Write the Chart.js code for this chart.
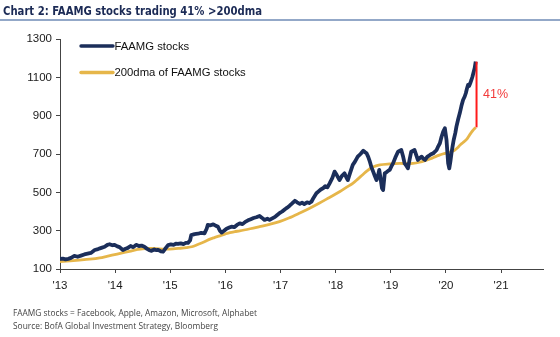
<!DOCTYPE html>
<html>
<head>
<meta charset="utf-8">
<script src="https://cdn.jsdelivr.net/npm/chart.js@4/dist/chart.umd.min.js"></script>
<style>
  html, body { margin: 0; padding: 0; background: #fff; }
  #wrap { position: relative; width: 560px; height: 337px; overflow: hidden; }
  #c { position: absolute; left: 0; top: 0; }
  .txt { position: absolute; white-space: nowrap; transform-origin: 0 0; }
  #title { left: 3px; top: 3px; font-family: "Liberation Sans Narrow", "DejaVu Sans Condensed", "Liberation Sans", sans-serif;
           font-weight: bold; font-size: 13px; color: #1b2a55; }
  #rule { position: absolute; left: 0; top: 19px; width: 560px; height: 1.5px; background: #93a8c8; }
  .note { left: 13px; font-family: "Open Sans", "Noto Sans", sans-serif; font-size: 9.8px; color: #444; }
</style>
</head>
<body>
<div id="wrap">
  <canvas id="c" width="560" height="337"></canvas>
  <div id="title" class="txt">Chart 2: FAAMG stocks trading 41% &gt;200dma</div>
  <div id="rule"></div>
  <div id="note1" class="txt note" style="top:306px">FAAMG stocks = Facebook, Apple, Amazon, Microsoft, Alphabet</div>
  <div id="note2" class="txt note" style="top:319px">Source: BofA Global Investment Strategy, Bloomberg</div>
</div>
<script>
// FAAMG index level, dates as decimal years
const faamgDates = [
  2013.00,2013.05,2013.10,2013.15,2013.20,2013.26,2013.32,2013.38,2013.44,2013.50,2013.56,2013.63,2013.69,2013.75,2013.81,2013.86,2013.90,2013.95,2013.99,
  2014.04,2014.08,2014.14,2014.19,2014.23,2014.28,2014.33,2014.38,2014.43,2014.48,2014.53,2014.58,2014.62,2014.66,2014.71,2014.75,2014.78,2014.83,2014.87,2014.91,2014.96,
  2015.01,2015.06,2015.10,2015.14,2015.19,2015.24,2015.28,2015.32,2015.36,2015.38,2015.44,2015.50,2015.56,2015.62,2015.66,2015.68,2015.73,2015.78,2015.83,2015.86,2015.90,2015.93,2015.97,
  2016.02,2016.07,2016.11,2016.16,2016.21,2016.26,2016.31,2016.36,2016.41,2016.46,2016.51,2016.56,2016.62,2016.66,2016.71,2016.76,2016.80,2016.85,2016.90,2016.94,2016.98,
  2017.03,2017.08,2017.12,2017.16,2017.21,2017.26,2017.30,2017.35,2017.39,2017.43,2017.48,2017.52,2017.56,2017.60,2017.65,2017.69,2017.73,2017.77,2017.81,2017.85,2017.89,2017.94,2017.98,
  2018.02,2018.07,2018.11,2018.16,2018.19,2018.22,2018.26,2018.31,2018.35,2018.40,2018.45,2018.50,2018.53,2018.56,2018.59,2018.62,2018.65,2018.68,2018.71,2018.74,2018.77,2018.79,2018.82,2018.84,2018.86,2018.89,2018.92,2018.95,2018.98,
  2019.01,2019.04,2019.08,2019.13,2019.19,2019.22,2019.25,2019.28,2019.31,2019.34,2019.37,2019.43,2019.46,2019.49,2019.53,2019.56,2019.59,2019.62,2019.66,2019.71,2019.74,2019.77,2019.80,2019.83,2019.86,2019.89,2019.92,2019.95,2019.98,
  2020.01,2020.04,2020.06,2020.08,2020.10,2020.12,2020.14,2020.17,2020.19,2020.22,2020.25,2020.28,2020.31,2020.34,2020.36,2020.38,2020.40,2020.42,2020.44,2020.46,2020.48,2020.50,2020.52,2020.54
];
const faamgValues = [
  152,154,150,153,158,168,164,170,176,180,184,199,204,210,216,226,229,224,226,
  218,214,199,206,210,220,214,226,220,222,216,205,198,195,202,198,200,192,190,206,225,
  228,226,232,231,234,230,236,236,250,277,282,284,288,286,310,330,328,333,325,322,300,290,298,
  310,316,321,318,330,338,334,346,354,360,366,370,377,368,356,362,356,364,372,382,391,
  400,412,420,429,442,456,448,440,446,439,448,444,451,472,495,505,515,521,532,526,547,575,608,
  590,564,585,599,580,564,600,643,660,686,700,717,710,704,685,660,630,608,585,564,590,617,560,521,512,599,605,612,617,
  635,651,680,712,721,690,651,640,625,670,712,721,695,669,680,686,675,669,685,695,700,704,712,721,740,756,790,817,834,
  773,651,625,660,704,740,773,810,843,880,912,950,982,1000,1017,1040,1060,1055,1069,1085,1103,1125,1147,1182
];

// 200-day moving average of the FAAMG index
const dmaDates = [
  2013.00,2013.18,2013.35,2013.54,2013.72,2013.85,2013.99,2014.13,2014.26,2014.41,2014.55,2014.70,2014.90,2015.05,2015.17,2015.30,2015.39,2015.50,2015.62,2015.72,2015.80,2015.90,
  2016.00,2016.08,2016.17,2016.26,2016.45,2016.62,2016.80,2016.98,2017.15,2017.34,2017.52,2017.70,2017.88,2018.07,2018.20,2018.31,2018.40,2018.49,2018.57,2018.65,2018.73,2018.80,2018.98,
  2019.16,2019.30,2019.40,2019.52,2019.62,2019.72,2019.80,2019.88,2019.94,2020.00,2020.07,2020.12,2020.16,2020.21,2020.25,2020.31,2020.37,2020.43,2020.48,2020.54
];
const dmaValues = [
  138,142,146,151,158,166,175,184,192,202,207,207,204,205,208,212,216,228,242,256,264,273,
  283,290,295,299,310,321,333,347,366,391,416,443,472,503,527,547,569,592,612,628,638,643,648,
  651,650,651,657,665,675,685,694,700,705,710,714,720,732,745,760,775,800,820,839
];

const seriesNames = ["FAAMG stocks", "200dma of FAAMG stocks"];
const xTickYears = [2013, 2014, 2015, 2016, 2017, 2018, 2019, 2020, 2021];
const xTickLabels = ["'13", "'14", "'15", "'16", "'17", "'18", "'19", "'20", "'21"];
const yTickValues = [100, 300, 500, 700, 900, 1100, 1300];

const NAVY = "#1b2e5a";
const GOLD = "#e6b64a";
const RED = "#ff1a1a";

const toPoints = (xs, ys) => xs.map((x, i) => ({ x: x, y: ys[i] }));

// Legend drawn inside the plot, top-left
const insideLegend = {
  id: "insideLegend",
  afterDraw(chart) {
    const ctx = chart.ctx;
    const rows = [46, 72.5];
    ctx.save();
    chart.data.datasets.forEach((ds, i) => {
      const y = rows[i];
      ctx.strokeStyle = ds.borderColor;
      ctx.lineWidth = 3.4;
      ctx.lineCap = "round";
      ctx.beginPath();
      ctx.moveTo(81, y);
      ctx.lineTo(113, y);
      ctx.stroke();
      ctx.fillStyle = "#111";
      ctx.font = "11.3px 'Liberation Sans', Arial, sans-serif";
      ctx.textBaseline = "middle";
      ctx.textAlign = "left";
      ctx.fillText(ds.label, 114.5, y + 0.5);
    });
    ctx.restore();
  }
};

// Gap between the last index level and its 200dma, with the percentage
const gapMarker = {
  id: "gapMarker",
  afterDatasetsDraw(chart) {
    const xs = chart.scales.x, ys = chart.scales.y;
    const a = faamgValues[faamgValues.length - 1];
    const b = dmaValues[dmaValues.length - 1];
    const t = faamgDates[faamgDates.length - 1];
    const px = xs.getPixelForValue(t) + 0.8;
    const y1 = ys.getPixelForValue(a), y2 = ys.getPixelForValue(b);
    const ctx = chart.ctx;
    ctx.save();
    ctx.strokeStyle = RED;
    ctx.lineWidth = 2;
    ctx.beginPath();
    ctx.moveTo(px, y1);
    ctx.lineTo(px, y2);
    ctx.stroke();
    ctx.fillStyle = "#f23a3a";
    ctx.font = "12.5px 'Liberation Sans', Arial, sans-serif";
    ctx.textBaseline = "middle";
    ctx.textAlign = "left";
    ctx.fillText(Math.round((a / b - 1) * 100) + "%", px + 6.5, (y1 + y2) / 2);
    ctx.restore();
  }
};

new Chart(document.getElementById("c"), {
  type: "line",
  data: {
    datasets: [
      { label: seriesNames[0], data: toPoints(faamgDates, faamgValues), borderColor: NAVY, backgroundColor: NAVY,
        borderWidth: 3.8, pointRadius: 0, tension: 0, borderJoinStyle: "round", order: 1 },
      { label: seriesNames[1], data: toPoints(dmaDates, dmaValues), borderColor: GOLD, backgroundColor: GOLD,
        borderWidth: 2.8, pointRadius: 0, cubicInterpolationMode: "monotone", order: 2 }
    ]
  },
  options: {
    responsive: false,
    animation: false,
    events: [],
    layout: { padding: { left: 0, top: 39, right: 17, bottom: 38 } },
    plugins: { legend: { display: false }, tooltip: { enabled: false } },
    scales: {
      x: {
        type: "linear",
        min: 2013,
        max: 2021.76,
        afterFit(s) { s.height = 30; },
        afterBuildTicks(s) { s.ticks = xTickYears.map(v => ({ value: v })); },
        ticks: {
          callback: (v) => xTickLabels[xTickYears.indexOf(v)],
          color: "#1a1a1a",
          font: { family: "'Liberation Sans', Arial, sans-serif", size: 11.5 },
          padding: 6,
          maxRotation: 0,
          autoSkip: false
        },
        grid: { drawOnChartArea: false, drawTicks: true, tickLength: 4, color: "#444", lineWidth: 1 },
        border: { color: "#444", width: 1 }
      },
      y: {
        min: 100,
        max: 1300,
        afterFit(s) { s.width = 60; },
        afterBuildTicks(s) { s.ticks = yTickValues.map(v => ({ value: v })); },
        ticks: {
          callback: (v) => String(v),
          color: "#1a1a1a",
          font: { family: "'Liberation Sans', Arial, sans-serif", size: 11.5 },
          padding: 4
        },
        grid: { drawOnChartArea: false, drawTicks: true, tickLength: 4, color: "#444", lineWidth: 1 },
        border: { color: "#444", width: 1 }
      }
    }
  },
  plugins: [insideLegend, gapMarker]
});

// Fit the heading and notes to their measured widths
function fitWidth(id, w) {
  const el = document.getElementById(id);
  const cur = el.getBoundingClientRect().width;
  if (cur > 0) el.style.transform = "scaleX(" + (w / cur) + ")";
}
fitWidth("title", 259);
fitWidth("note1", 244);
fitWidth("note2", 205);
</script>
</body>
</html>
